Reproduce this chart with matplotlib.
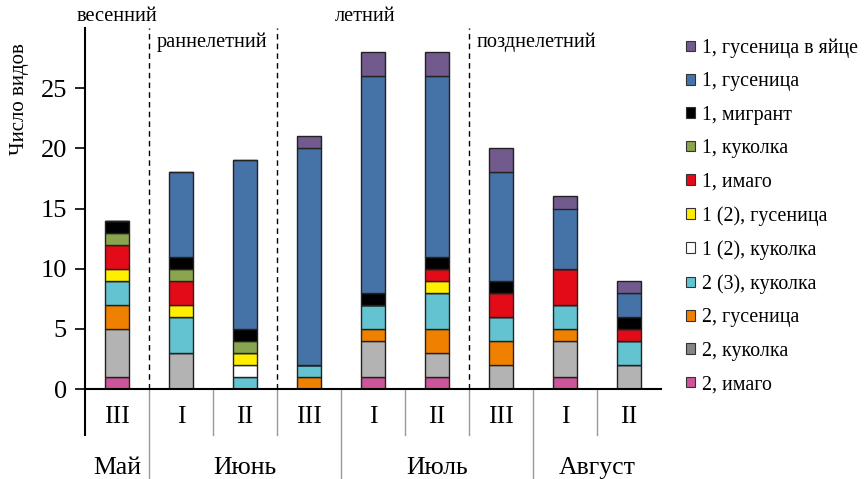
import matplotlib
matplotlib.use("Agg")
import matplotlib.pyplot as plt
from matplotlib.patches import Patch
import numpy as np

plt.rcParams['font.family'] = ['Liberation Serif', 'DejaVu Serif']

decades = ["III", "I", "II", "III", "I", "II", "III", "I", "II"]
months = ["Май", "Июнь", "Июль", "Август"]
month_span = [(0, 0), (1, 3), (4, 6), (7, 8)]
seasons = ["весенний", "раннелетний", "летний", "позднелетний"]

# series, bottom to top
series_names = ["2, имаго", "2, куколка", "2, гусеница", "2 (3), куколка",
                "1 (2), куколка", "1 (2), гусеница", "1, имаго", "1, куколка",
                "1, мигрант", "1, гусеница", "1, гусеница в яйце"]
imago2 =        [1, 0, 0, 0, 1, 1, 0, 1, 0]
pupa2 =         [4, 3, 0, 0, 3, 2, 2, 3, 2]
larva2 =        [2, 0, 0, 1, 1, 2, 2, 1, 0]
pupa23 =        [2, 3, 1, 1, 2, 3, 2, 2, 2]
pupa12 =        [0, 0, 1, 0, 0, 0, 0, 0, 0]
larva12 =       [1, 1, 1, 0, 0, 1, 0, 0, 0]
imago1 =        [2, 2, 0, 0, 0, 1, 2, 3, 1]
pupa1 =         [1, 1, 1, 0, 0, 0, 0, 0, 0]
migrant1 =      [1, 1, 1, 0, 1, 1, 1, 0, 1]
larva1 =        [0, 7, 14, 18, 18, 15, 9, 5, 2]
egglarva1 =     [0, 0, 0, 1, 2, 2, 2, 1, 1]
values = [imago2, pupa2, larva2, pupa23, pupa12, larva12, imago1, pupa1,
          migrant1, larva1, egglarva1]
colors = ["#cc5599", "#b3b3b3", "#f08000", "#63c3d0", "#ffffff", "#ffee00",
          "#e30b17", "#89a54e", "#000000", "#4573a7", "#725a8e"]
legend_colors = list(colors)
legend_colors[1] = "#858585"

fig = plt.figure(figsize=(8.65, 4.79), dpi=100)
ax = fig.add_axes([85/865, 1-389/479, 576/865, 361/479])

x = np.arange(len(decades))
bottom = np.zeros(len(decades))
for name, vals, c in zip(series_names, values, colors):
    vals = np.array(vals, dtype=float)
    ax.bar(x, vals, width=0.39, bottom=bottom, color=c, edgecolor="#222222",
           linewidth=1.0, label=name, zorder=3)
    bottom += vals

ax.set_xlim(-0.5, len(decades) - 0.5)
ax.set_ylim(0, 30)
ax.set_yticks([0, 5, 10, 15, 20, 25])
ax.tick_params(axis='y', labelsize=19, length=7, width=1.2, direction='out', pad=6)
ax.set_xticks([])
for s in ["top", "right"]:
    ax.spines[s].set_visible(False)
ax.spines["left"].set_linewidth(1.5)
ax.spines["bottom"].set_linewidth(1.5)
ax.spines["left"].set_zorder(5)
ax.spines["bottom"].set_zorder(5)

u = 1/12.03  # data units per pixel
# dashed season separators
for b in [0.5, 2.5, 5.5]:
    ax.plot([b, b], [0, 30], ls=(0, (4, 3)), color="black", lw=1.0, zorder=1)

# season labels
sfs = 14.7
ax.text(0.0, (389-17)*u, seasons[0], ha="center", va="center", fontsize=sfs, clip_on=False)
ax.text(0.62, (389-42)*u, seasons[1], ha="left", va="center", fontsize=sfs, clip_on=False)
ax.text(3.88, (389-17)*u, seasons[2], ha="center", va="center", fontsize=sfs, clip_on=False)
ax.text(5.62, (389-42)*u, seasons[3], ha="left", va="center", fontsize=sfs, clip_on=False)

# category axis below
ax.plot([-0.5, -0.5], [0, -46*u], color="black", lw=1.5, clip_on=False, zorder=5)
month_bounds = [0.5, 3.5, 6.5]
for b in np.arange(0.5, len(decades) - 0.5, 1.0):
    if b in month_bounds:
        ax.plot([b, b], [0, -95*u], color="#999999", lw=1.0, clip_on=False)
    else:
        ax.plot([b, b], [0, -46*u], color="#999999", lw=1.0, clip_on=False)
for xi, lab in zip(x, decades):
    ax.text(xi, -28*u, lab, ha="center", va="center", fontsize=18.5, clip_on=False)
for (a, b), m in zip(month_span, months):
    ax.text((a + b) / 2, -79*u, m, ha="center", va="center", fontsize=18.5, clip_on=False)

fig.text(20/865, 1-99/479, "Число видов", rotation=90, ha="center", va="center", fontsize=15)

handles = [Patch(facecolor=c, edgecolor="#333333", linewidth=0.8, label=n)
           for n, c in zip(series_names, legend_colors)][::-1]
fig.legend(handles=handles, loc="upper left", bbox_to_anchor=(686/865, 1-38.5/479),
           frameon=False, fontsize=14.3, handlelength=0.45, handleheight=0.45,
           handletextpad=0.35, labelspacing=0.725, borderpad=0, borderaxespad=0)

fig.savefig("out.png", dpi=100)
